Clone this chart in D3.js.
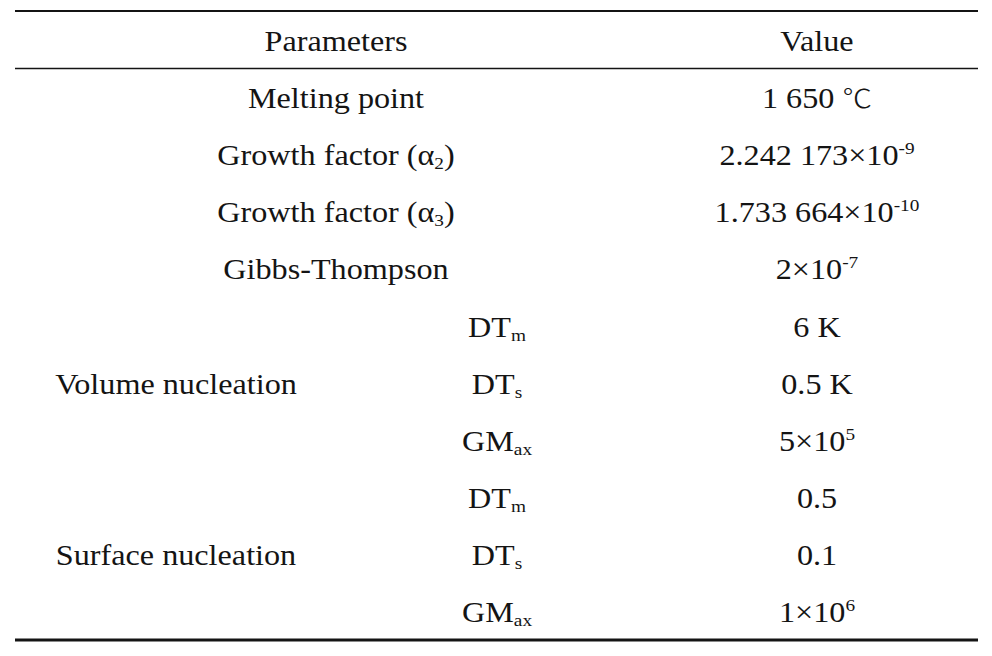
<!DOCTYPE html>
<html><head><meta charset="utf-8">
<script src="https://cdn.jsdelivr.net/npm/d3@7/dist/d3.min.js"></script>
<style>html,body{margin:0;padding:0;background:#fff;}</style>
</head><body>
<svg id="chart" width="992" height="656"></svg>
<script>
// ---- data ----
const headers = ["Parameters", "Value"];
const parameters = ["Melting point", "Growth factor (α_{2})", "Growth factor (α_{3})", "Gibbs-Thompson",
  "DT_{m}", "DT_{s}", "GM_{ax}", "DT_{m}", "DT_{s}", "GM_{ax}"];
const groupOf = [null, null, null, null,
  "Volume nucleation", "Volume nucleation", "Volume nucleation",
  "Surface nucleation", "Surface nucleation", "Surface nucleation"];
const values = ["1 650 ℃", "2.242 173×10^{-9}", "1.733 664×10^{-10}", "2×10^{-7}",
  "6 K", "0.5 K", "5×10^{5}", "0.5", "0.1", "1×10^{6}"];
const groupNames = ["Volume nucleation", "Surface nucleation"];

// ---- layout ----
const svg = d3.select("#chart");
const fontSize = 28.5, stretch = 1.13;
const y = d3.scaleLinear().domain([0, 10]).range([51, 622]); // baseline per row (0 = header)
const col = { param: 336, sub: 497, group: 176, value: 817 };
const ink = "#141414";

function parse(str) {
  const parts = [];
  const re = /([_^])\{([^}]*)\}|(℃)/g;
  let last = 0, m;
  while ((m = re.exec(str))) {
    if (m.index > last) parts.push({ t: str.slice(last, m.index), k: "n" });
    if (m[3]) parts.push({ t: m[3], k: "cjk" });
    else parts.push({ t: m[2], k: m[1] === "_" ? "sub" : "sup" });
    last = re.lastIndex;
  }
  if (last < str.length) parts.push({ t: str.slice(last), k: "n" });
  return parts;
}

function label(x, yy, str) {
  const t = svg.append("text")
    .attr("transform", `translate(${x},${yy}) scale(${stretch},1)`)
    .attr("text-anchor", "middle")
    .attr("font-family", "'Liberation Serif','Times New Roman',serif")
    .attr("font-size", fontSize)
    .attr("fill", ink);
  let shift = 0;
  parse(str).forEach(p => {
    const ts = t.append("tspan").text(p.t);
    let target = 0, size = fontSize;
    if (p.k === "sub") { target = 4; size = fontSize * 0.6; }
    if (p.k === "sup") { target = -11; size = fontSize * 0.6; }
    if (p.k === "cjk") {
      ts.attr("font-family", "'Noto Sans CJK SC','Noto Sans CJK JP',sans-serif")
        .attr("font-weight", 300);
      size = fontSize * 0.92;
    }
    ts.attr("font-size", size).attr("dy", target - shift);
    shift = target;
  });
  return t;
}

// rules
const x0 = 15, x1 = 978;
[[11, 2.2], [68.5, 1.3], [640, 3]].forEach(([yy, w]) => {
  svg.append("line").attr("x1", x0).attr("x2", x1).attr("y1", yy).attr("y2", yy)
    .attr("stroke", ink).attr("stroke-width", w);
});

// header
label(col.param, y(0), headers[0]);
label(col.value, y(0), headers[1]);

// rows
parameters.forEach((p, i) => {
  const xx = groupOf[i] ? col.sub : col.param;
  label(xx, y(i + 1), p);
  label(col.value, y(i + 1), values[i]);
});

// group labels centred over their rows
groupNames.forEach(g => {
  const idx = groupOf.map((v, i) => v === g ? i + 1 : -1).filter(i => i >= 0);
  label(col.group, y(d3.mean(idx)), g);
});
</script>
</body></html>
